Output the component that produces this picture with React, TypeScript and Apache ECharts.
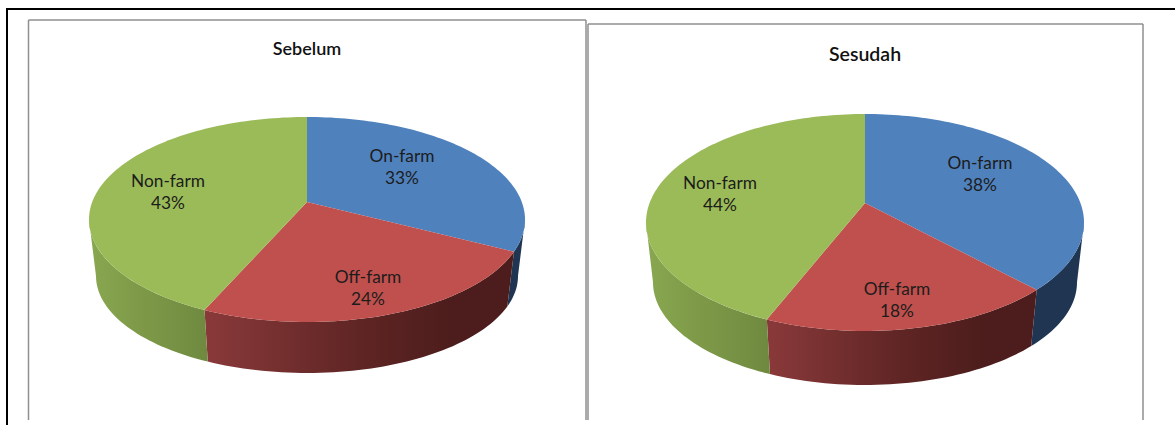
import React, { useEffect, useRef } from "react";
import * as echarts from "echarts";

const categories = ["On-farm", "Off-farm", "Non-farm"];
const sebelumValues = [32.6, 24, 43.4];
const sesudahValues = [37.8, 18.4, 43.8];
const titles = ["Sebelum", "Sesudah"];

const topColors = ["#4f81bd", "#c0504d", "#9bbb59"];
const sideStops = [
  [[0, "#1f3552"], [1, "#1f3552"]],
  [[0, "#8a393a"], [0.5, "#5f2524"], [0.8, "#4c1d1c"], [1, "#4c1d1c"]],
  [[0, "#89a750"], [0.45, "#7d9948"], [1, "#6f8a3f"]],
];
const FONT = "Lato, 'Noto Sans', sans-serif";

type Geo = {
  cx: number; cy: number; rx: number; ry: number; a: number;
  bcy: number; brx: number; bry: number;
  labels: number[][];
};
const geoLeft: Geo = {
  cx: 307, cy: 219.5, rx: 218, ry: 102.5, a: -0.17,
  bcy: 276, brx: 211, bry: 97,
  labels: [[402, 166], [368, 287], [168, 191]],
};
const geoRight: Geo = {
  cx: 865, cy: 222.5, rx: 219, ry: 108.5, a: -0.18,
  bcy: 282.3, brx: 212, bry: 102.7,
  labels: [[980, 173], [897, 299], [720, 193]],
};

// perspective projection of a circle angle (clockwise from the top) to the unit disc
function proj(deg: number, a: number): [number, number] {
  const t = (deg * Math.PI) / 180;
  const x = Math.sin(t);
  const y = -Math.cos(t);
  const d = 1 + a * y;
  return [(x * Math.sqrt(1 - a * a)) / d, (y + a) / d];
}

function ranges(values: number[]) {
  const total = values.reduce((s, v) => s + v, 0);
  let acc = 0;
  return values.map((v) => {
    const s = (acc / total) * 360;
    acc += v;
    return [s, (acc / total) * 360];
  });
}

function arc(s: number, e: number, g: Geo, bottom: boolean) {
  const n = Math.max(2, Math.ceil((e - s) / 1.5));
  const pts: number[][] = [];
  for (let i = 0; i <= n; i++) {
    const [u, v] = proj(s + ((e - s) * i) / n, g.a);
    pts.push(
      bottom
        ? [g.cx + u * g.brx, g.bcy + v * g.bry]
        : [g.cx + u * g.rx, g.cy + v * g.ry]
    );
  }
  return pts;
}

function sideSeries(values: number[], g: Geo, name: string) {
  const rs = ranges(values);
  const frontS = (Math.acos(g.a) * 180) / Math.PI;
  const frontE = 360 - frontS;
  return {
    type: "custom",
    name: name + " side",
    coordinateSystem: "none",
    silent: true,
    z: 2,
    data: values,
    renderItem: (p: any) => {
      const [s0, e0] = rs[p.dataIndex];
      const s = Math.max(s0, frontS);
      const e = Math.min(e0, frontE);
      if (e <= s) return { type: "group", children: [] };
      const points = [...arc(s, e, g, false), ...arc(s, e, g, true).reverse()];
      return {
        type: "polygon",
        shape: { points },
        style: {
          fill: new echarts.graphic.LinearGradient(
            0, 0, 1, 0,
            sideStops[p.dataIndex].map(([offset, color]) => ({ offset, color })) as any
          ),
        },
      };
    },
  };
}

function topSeries(values: number[], g: Geo, name: string) {
  const rs = ranges(values);
  return {
    type: "custom",
    name: name + " top",
    coordinateSystem: "none",
    silent: true,
    z: 3,
    data: values,
    renderItem: (p: any) => {
      const [s, e] = rs[p.dataIndex];
      const apex = [g.cx, g.cy + g.a * g.ry];
      const [lx, ly] = g.labels[p.dataIndex];
      return {
        type: "group",
        children: [
          {
            type: "polygon",
            shape: { points: [apex, ...arc(s, e, g, false)] },
            style: { fill: topColors[p.dataIndex] },
          },
          {
            type: "text",
            z2: 10,
            style: {
              x: lx,
              y: ly,
              text: `${categories[p.dataIndex]}\n${Math.round(values[p.dataIndex])}%`,
              align: "center",
              verticalAlign: "middle",
              fill: "#1c1c1c",
              font: `17.3px ${FONT}`,
              lineHeight: 22,
            },
          },
        ],
      };
    },
  };
}

const GRAY = "#8f8f8f";
const BLACK = "#000000";
const line = (x1: number, y1: number, x2: number, y2: number, stroke: string, w: number) => ({
  type: "line",
  silent: true,
  z: 1,
  shape: { x1, y1, x2, y2 },
  style: { stroke, lineWidth: w },
});

export default function App() {
  const ref = useRef<HTMLDivElement>(null);
  useEffect(() => {
    document.body.style.margin = "0";
    const chart = echarts.init(ref.current!, undefined, { renderer: "svg" });
    chart.setOption({
      animation: false,
      backgroundColor: "#ffffff",
      title: [
        {
          text: titles[0], left: 307, top: 39, padding: 0, textAlign: "center",
          textStyle: { fontFamily: FONT, fontSize: 18, fontWeight: 600, color: "#111" },
        },
        {
          text: titles[1], left: 865, top: 43, padding: 0, textAlign: "center",
          textStyle: { fontFamily: FONT, fontSize: 19.5, fontWeight: 600, color: "#111" },
        },
      ],
      graphic: [
        line(6, 9, 1175, 9, BLACK, 2),
        line(7, 9, 7, 425, BLACK, 2),
        line(28.5, 20, 586, 20, GRAY, 1.5),
        line(28.5, 20, 28.5, 420, GRAY, 1.5),
        line(586, 20, 586, 420, GRAY, 1.5),
        line(588, 24, 1143, 24, GRAY, 1.5),
        line(588, 24, 588, 420, GRAY, 1.5),
        line(1143, 24, 1143, 420, GRAY, 1.5),
      ],
      series: [
        sideSeries(sebelumValues, geoLeft, titles[0]),
        topSeries(sebelumValues, geoLeft, titles[0]),
        sideSeries(sesudahValues, geoRight, titles[1]),
        topSeries(sesudahValues, geoRight, titles[1]),
      ],
    });
    return () => chart.dispose();
  }, []);
  return (
    <div
      ref={ref}
      style={{ position: "absolute", left: 0, top: 0, width: 1175, height: 425 }}
    />
  );
}
